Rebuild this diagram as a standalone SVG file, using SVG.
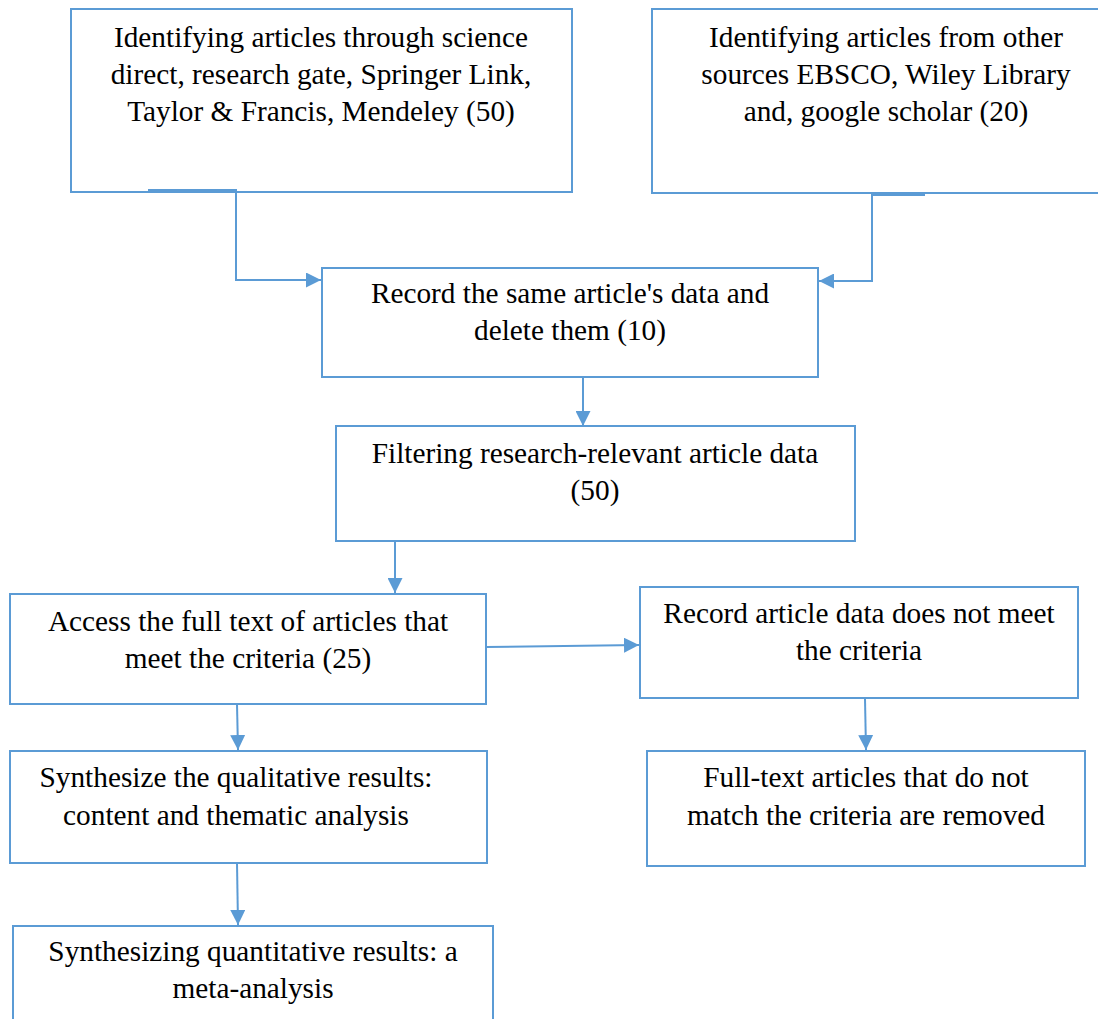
<svg xmlns="http://www.w3.org/2000/svg" width="1098" height="1019" viewBox="0 0 1098 1019">
<style>
.box{fill:#fff;stroke:#5B9BD5;stroke-width:2}
.t{font-family:"Liberation Serif","Times New Roman",serif;font-size:29.3px;fill:#000;text-anchor:middle}
.c{fill:none;stroke:#5B9BD5;stroke-width:2}
</style>
<defs>
<marker id="ah" viewBox="0 0 10 10" refX="10" refY="5" markerWidth="15" markerHeight="15" markerUnits="userSpaceOnUse" orient="auto">
<path d="M0,0 L10,5 L0,10 z" fill="#5B9BD5"/>
</marker>
</defs>
<g id="n1"><rect class="box" x="71" y="9" width="501" height="183"/>
<text class="t" x="321" y="47">Identifying articles through science</text>
<text class="t" x="321" y="84">direct, research gate, Springer Link,</text>
<text class="t" x="321" y="121">Taylor &amp; Francis, Mendeley (50)</text></g>
<g id="n2"><rect class="box" x="652" y="9" width="470" height="184"/>
<text class="t" x="886" y="47">Identifying articles from other</text>
<text class="t" x="886" y="84">sources EBSCO, Wiley Library</text>
<text class="t" x="886" y="121">and, google scholar (20)</text></g>
<g id="n3"><rect class="box" x="322" y="268" width="496" height="109"/>
<text class="t" x="570" y="303">Record the same article's data and</text>
<text class="t" x="570" y="340">delete them (10)</text></g>
<g id="n4"><rect class="box" x="336" y="426" width="519" height="115"/>
<text class="t" x="595" y="463">Filtering research-relevant article data</text>
<text class="t" x="595" y="500">(50)</text></g>
<g id="n5"><rect class="box" x="10" y="594" width="476" height="110"/>
<text class="t" x="248" y="631">Access the full text of articles that</text>
<text class="t" x="248" y="668">meet the criteria (25)</text></g>
<g id="n6"><rect class="box" x="640" y="587" width="438" height="111"/>
<text class="t" x="859" y="623">Record article data does not meet</text>
<text class="t" x="859" y="660">the criteria</text></g>
<g id="n7"><rect class="box" x="10" y="751" width="477" height="112"/>
<text class="t" x="236" y="787">Synthesize the qualitative results:</text>
<text class="t" x="236" y="825">content and thematic analysis</text></g>
<g id="n8"><rect class="box" x="647" y="751" width="438" height="115"/>
<text class="t" x="866" y="787">Full-text articles that do not</text>
<text class="t" x="866" y="825">match the criteria are removed</text></g>
<g id="n9"><rect class="box" x="13" y="926" width="480" height="110"/>
<text class="t" x="253" y="961">Synthesizing quantitative results: a</text>
<text class="t" x="253" y="998">meta-analysis</text></g>
<g id="connectors">
<path class="c" d="M148,190 H236 V280 H321" marker-end="url(#ah)"/>
<path class="c" d="M925,195 H872 V281 H819" marker-end="url(#ah)"/>
<path class="c" d="M583,377 V426" marker-end="url(#ah)"/>
<path class="c" d="M395,541 V593" marker-end="url(#ah)"/>
<path class="c" d="M486,647 L639,645" marker-end="url(#ah)"/>
<path class="c" d="M237,704 L238,750" marker-end="url(#ah)"/>
<path class="c" d="M865,699 L866,750" marker-end="url(#ah)"/>
<path class="c" d="M237,863 L238,925" marker-end="url(#ah)"/>
</g>
</svg>
